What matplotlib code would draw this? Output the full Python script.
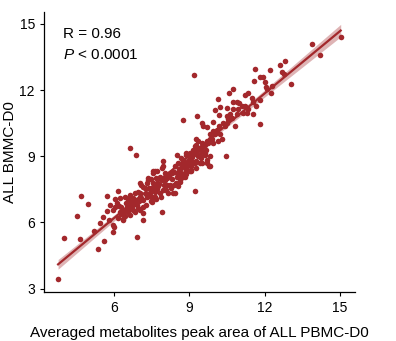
import numpy as np
import matplotlib
matplotlib.use("Agg")
import matplotlib.pyplot as plt

plt.rcParams['font.family'] = ['Liberation Sans', 'DejaVu Sans']
plt.rcParams['mathtext.fontset'] = 'custom'
plt.rcParams['mathtext.rm'] = 'Liberation Sans'
plt.rcParams['mathtext.it'] = 'Liberation Sans:italic'

# Averaged peak areas (PBMC-D0 vs BMMC-D0)
pbmc = [
    3.77, 4.01, 4.65, 4.51, 4.69, 4.95, 5.36, 5.60, 5.19, 5.44, 5.56, 5.72, 5.72, 5.80,
    5.94, 5.98, 6.04, 6.16, 5.83, 6.03, 6.19, 6.22, 6.29, 6.36, 6.93, 7.91, 9.22,
    7.62, 7.82, 7.69, 7.09, 7.22, 7.02, 6.82, 6.63, 6.43, 6.23, 6.10, 5.96, 6.29, 6.49,
    6.69, 6.89, 7.09, 7.29, 7.42, 7.49, 7.16, 6.96, 6.76, 6.56, 6.36, 7.16, 6.16, 6.36,
    7.16, 5.96, 8.02, 8.09, 7.82, 7.62,
    7.70, 7.95, 8.02, 7.55, 7.75, 7.95, 7.62, 7.49, 8.15, 8.42, 8.38, 8.22, 8.55, 8.62,
    8.75, 8.49, 8.29, 8.42, 8.55, 8.68, 8.49, 8.88, 9.02, 8.88, 9.08, 9.28, 9.41, 9.61,
    8.82, 9.02, 8.35,
    7.55, 7.89, 8.02, 7.36,
    6.65, 6.86, 8.75, 9.31, 9.19,
    13.89, 14.21, 15.02, 12.80, 12.60, 12.20, 11.61, 11.57, 11.80, 11.94, 12.67, 12.76,
    13.04, 12.00, 12.04, 12.27, 12.23, 12.10, 10.74, 10.56, 10.14, 10.21, 10.01, 10.18,
    10.50, 10.74, 10.90, 10.98, 11.21, 11.34, 11.47, 11.80, 11.65, 11.54, 11.21, 11.34,
    11.08, 10.94, 10.74, 10.88, 11.12, 11.28, 11.51, 11.80, 10.81, 10.48, 10.54, 10.61,
    10.68, 10.48, 10.41, 10.32, 9.94, 9.48, 9.55, 9.68, 10.18, 10.08, 9.94, 9.81, 10.01,
    10.21, 10.28, 9.88, 9.74, 9.94, 10.14, 9.55, 9.35, 9.25, 9.41, 9.22, 9.15, 9.28,
    9.48, 9.02, 8.88, 9.08, 9.35, 9.61, 9.81, 9.68, 10.45, 8.75, 8.95, 9.22, 9.48, 8.82,
    9.08, 8.68, 9.78, 9.28,
    8.75, 9.00, 9.15, 9.41, 9.68, 9.81, 8.68, 8.88, 9.08, 8.62, 8.82,
    6.40, 6.50, 6.60, 6.70, 6.80, 6.90, 7.00, 7.05, 7.15, 7.25, 7.35, 7.40, 7.50, 7.60,
    7.70, 7.80, 7.90, 8.00, 8.10, 8.20, 8.30, 8.40, 8.50, 8.60, 8.70, 8.80, 8.90, 9.00,
    9.10, 9.20, 9.30, 9.40, 9.50, 9.60, 9.70, 9.80, 6.55, 6.75, 6.95, 7.15, 7.30, 7.45,
    7.65, 6.45, 6.65, 6.85, 7.05, 7.25, 7.45, 7.65, 7.85, 8.05, 8.25, 8.45, 8.65, 8.85,
    9.05, 9.25, 9.45, 9.65, 7.02, 7.36, 7.55, 7.95, 8.22,
]
bmmc = [
    3.41, 5.27, 5.24, 6.27, 7.20, 6.82, 4.77, 5.16, 5.62, 5.95, 6.23, 7.19, 6.52, 6.10,
    5.56, 5.80, 7.05, 7.42, 6.78, 6.71, 6.74, 6.48, 6.37, 6.14, 5.33, 6.46, 7.44,
    8.31, 8.08, 7.78, 7.70, 7.55, 7.32, 7.32, 7.25, 7.17, 7.10, 6.87, 6.56, 6.71, 6.87,
    6.94, 7.02, 7.10, 7.17, 7.32, 6.94, 6.71, 6.64, 6.56, 6.48, 6.41, 6.41, 6.18, 6.10,
    6.10, 5.88, 8.08, 7.70, 7.32, 7.17,
    8.35, 8.77, 7.93, 7.78, 7.63, 7.47, 7.40, 7.17, 7.32, 7.32, 7.70, 7.70, 7.63, 7.85,
    8.08, 8.08, 8.24, 8.54, 8.69, 8.92, 9.07, 9.15, 8.84, 8.47, 8.39, 9.53, 9.07, 9.15,
    8.24, 8.31, 7.32,
    8.31, 8.47, 8.24, 8.01,
    9.36, 9.07, 10.63, 10.84, 12.67,
    14.10, 13.59, 14.40, 13.31, 13.12, 12.92, 12.94, 12.42, 12.58, 12.58, 12.80, 12.73,
    12.26, 12.35, 12.16, 12.19, 11.86, 12.04, 12.07, 11.86, 11.58, 11.25, 11.08, 10.89,
    11.17, 11.48, 11.48, 11.43, 11.77, 11.86, 11.63, 11.54, 11.28, 11.46, 11.28, 11.13,
    11.28, 11.13, 11.13, 10.90, 10.98, 10.98, 10.93, 10.44, 10.37, 10.82, 10.67, 10.90,
    10.75, 10.52, 10.37, 10.49, 10.55, 10.49, 10.37, 10.32, 10.37, 10.21, 10.14, 9.99, 9.99,
    9.99, 9.76, 9.76, 9.61, 9.61, 9.68, 9.45, 9.68, 9.79, 9.38, 9.45, 9.30, 9.22,
    9.22, 9.15, 9.07, 9.00, 9.00, 9.07, 9.00, 8.84, 9.00, 8.84, 8.77, 8.69, 8.69, 8.62,
    8.54, 8.47, 8.54, 8.47,
    8.69, 8.62, 8.75, 8.69, 8.69, 8.54, 8.24, 8.39, 8.31, 7.93, 8.08,
    6.55, 6.70, 6.60, 6.75, 6.85, 6.80, 6.95, 7.15, 7.00, 7.30, 7.20, 7.55, 7.45, 7.60,
    7.50, 7.75, 7.90, 7.70, 8.00, 8.10, 7.95, 8.30, 8.25, 8.40, 8.55, 8.70, 8.60, 9.00,
    8.95, 9.10, 9.25, 9.35, 9.60, 9.50, 9.70, 9.80, 7.05, 7.10, 7.40, 7.60, 7.80, 7.95,
    8.00, 6.30, 6.35, 6.45, 6.55, 6.80, 6.95, 7.05, 7.15, 7.45, 7.55, 7.80, 8.10, 8.20,
    8.55, 8.80, 8.90, 9.30, 7.78, 7.93, 8.24, 8.54, 8.24,
]

x = np.array(pbmc)
y = np.array(bmmc)
red = '#a3282c'

fig = plt.figure(figsize=(3.96, 3.41), dpi=100)
ax = fig.add_axes([0.111, 0.143, 0.785, 0.823])

# linear fit with 95% confidence band
slope, icpt = np.polyfit(x, y, 1)
xs = np.linspace(x.min(), x.max(), 100)
ys = icpt + slope * xs
n = len(x)
resid = y - (icpt + slope * x)
s = np.sqrt(np.sum(resid ** 2) / (n - 2))
sxx = np.sum((x - x.mean()) ** 2)
se = s * np.sqrt(1 / n + (xs - x.mean()) ** 2 / sxx)
ax.fill_between(xs, ys - 1.97 * se, ys + 1.97 * se, color=red, alpha=0.35, lw=0, zorder=1)

ax.scatter(x, y, s=16, color=red, lw=0, zorder=2)
ax.plot(xs, ys, color=red, lw=1.6, zorder=3)

ax.set_xticks([6, 9, 12, 15])
ax.set_yticks([3, 6, 9, 12, 15])
ax.tick_params(labelsize=10, length=3, width=0.8)
for sp in ['top', 'right']:
    ax.spines[sp].set_visible(False)
for sp in ['left', 'bottom']:
    ax.spines[sp].set_linewidth(0.9)

ax.set_xlabel('Averaged metabolites peak area of ALL PBMC-D0', fontsize=11, labelpad=8)
ax.set_ylabel('ALL BMMC-D0', fontsize=11, labelpad=2)

ax.text(0.06, 0.945, 'R = 0.96', transform=ax.transAxes, fontsize=11, va='top')
ax.text(0.06, 0.87, '$P$ < 0.0001', transform=ax.transAxes, fontsize=11, va='top')

fig.savefig('out.png', dpi=100)
